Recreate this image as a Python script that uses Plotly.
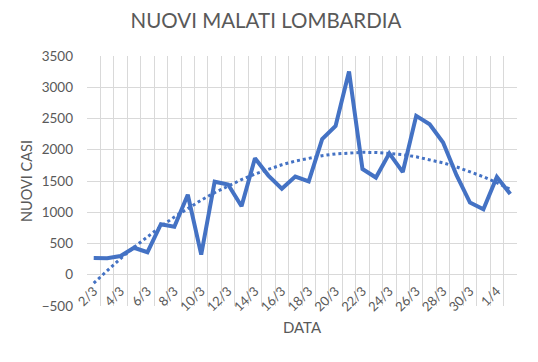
import numpy as np
import plotly.graph_objects as go

dates = ["2/3", "3/3", "4/3", "5/3", "6/3", "7/3", "8/3", "9/3", "10/3", "11/3",
         "12/3", "13/3", "14/3", "15/3", "16/3", "17/3", "18/3", "19/3", "20/3", "21/3",
         "22/3", "23/3", "24/3", "25/3", "26/3", "27/3", "28/3", "29/3", "30/3", "31/3",
         "1/4", "2/4"]
nuovi_casi = [270, 266, 300, 431, 361, 808, 769, 1280, 322, 1489,
              1445, 1095, 1865, 1587, 1377, 1571, 1493, 2171, 2380, 3251,
              1691, 1555, 1942, 1643, 2543, 2409, 2117, 1592, 1154, 1047,
              1565, 1292]

x = np.arange(len(dates))
# polynomial (order 2) trendline, as in the original spreadsheet chart
coef = np.polyfit(x + 1, nuovi_casi, 2)
trend = np.polyval(coef, x + 1)

blue = "#4472C4"
grey = "#595959"
grid = "#d9d9d9"
font = "Lato"

# page body has an 8px margin, so the figure is drawn 8px in from the top-left
W, H = 522, 346

fig = go.Figure()
fig.add_trace(go.Scatter(x=x, y=nuovi_casi, mode="lines",
                         line=dict(color=blue, width=4), showlegend=False))
fig.add_trace(go.Scatter(x=x, y=trend, mode="lines",
                         line=dict(color=blue, width=3, dash="3px,3px"), showlegend=False))

fig.update_layout(
    width=W, height=H,
    margin=dict(l=79, r=13, t=48, b=48),
    paper_bgcolor="white", plot_bgcolor="white",
    font=dict(family=font, color=grey, size=13),
    title=dict(text="NUOVI MALATI LOMBARDIA", x=(266 - 8) / W, xanchor="center",
               xref="container", y=1 - 13 / H, yref="container",
               yanchor="middle", font=dict(size=20.5, color=grey, family=font)),
)
fig.update_xaxes(
    automargin=False,
    range=[-0.5, len(dates) - 0.5],
    tickmode="array", tickvals=list(x[::2]), ticktext=dates[::2],
    tickangle=-45, showgrid=False, zeroline=False, showline=False, ticks="",
    tickfont=dict(size=13, color=grey),
    ticklabelstandoff=-26,
    minor=dict(tickmode="array", tickvals=list(np.arange(-0.5, len(dates), 1.0)),
               showgrid=True, gridcolor=grid, gridwidth=1, ticks=""),
    title=dict(text="DATA", font=dict(size=15, color=grey), standoff=9),
)
fig.update_yaxes(
    automargin=False,
    range=[-500, 3500], dtick=500, showgrid=True, gridcolor=grid, gridwidth=1,
    zeroline=False, showline=False, ticks="",
    ticklabelstandoff=13,
    tickfont=dict(size=13.5, color=grey),
    title=dict(text="NUOVI CASI", font=dict(size=14.5, color=grey), standoff=5),
)

fig.write_html("out.html")
